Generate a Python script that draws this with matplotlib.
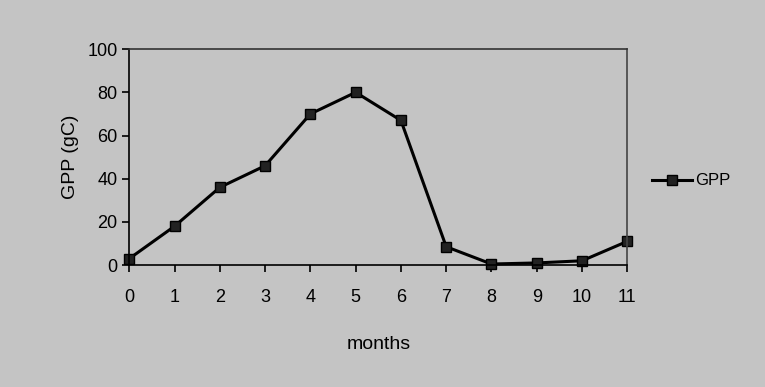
import matplotlib
matplotlib.use('Agg')
import matplotlib.pyplot as plt

plt.rcParams['font.family'] = ['Liberation Sans', 'DejaVu Sans']

months = [0, 1, 2, 3, 4, 5, 6, 7, 8, 9, 10, 11]
gpp = [3, 18, 36, 46, 70, 80, 67, 8.5, 0.5, 1, 2, 11]

bg = '#c4c4c4'
fig = plt.figure(figsize=(7.65, 3.87), dpi=100, facecolor=bg)
ax = fig.add_axes([0.169, 0.315, 0.651, 0.558], facecolor=bg)

ax.plot(months, gpp, color='black', linewidth=2.2, marker='s', markersize=7,
        markerfacecolor='#222222', markeredgecolor='black', label='GPP', clip_on=False)

ax.set_xlim(0, 11)
ax.set_ylim(0, 100)
ax.set_xticks(months)
ax.set_yticks([0, 20, 40, 60, 80, 100])
ax.tick_params(labelsize=13, length=5, width=1.2, direction='out')
ax.tick_params(axis='x', pad=12)
for s in ax.spines.values():
    s.set_linewidth(1.2)
    s.set_color('black')
ax.spines['top'].set_color('#333333')
ax.spines['right'].set_color('#444444')

ax.set_xlabel('months', fontsize=14, labelpad=22)
ax.set_ylabel('GPP (gC)', fontsize=14, labelpad=6)

leg = ax.legend(loc='center left', bbox_to_anchor=(1.02, 0.39), frameon=False,
                fontsize=12, handlelength=2.4, handletextpad=0.2)

fig.savefig('out.png', dpi=100, facecolor=bg)
